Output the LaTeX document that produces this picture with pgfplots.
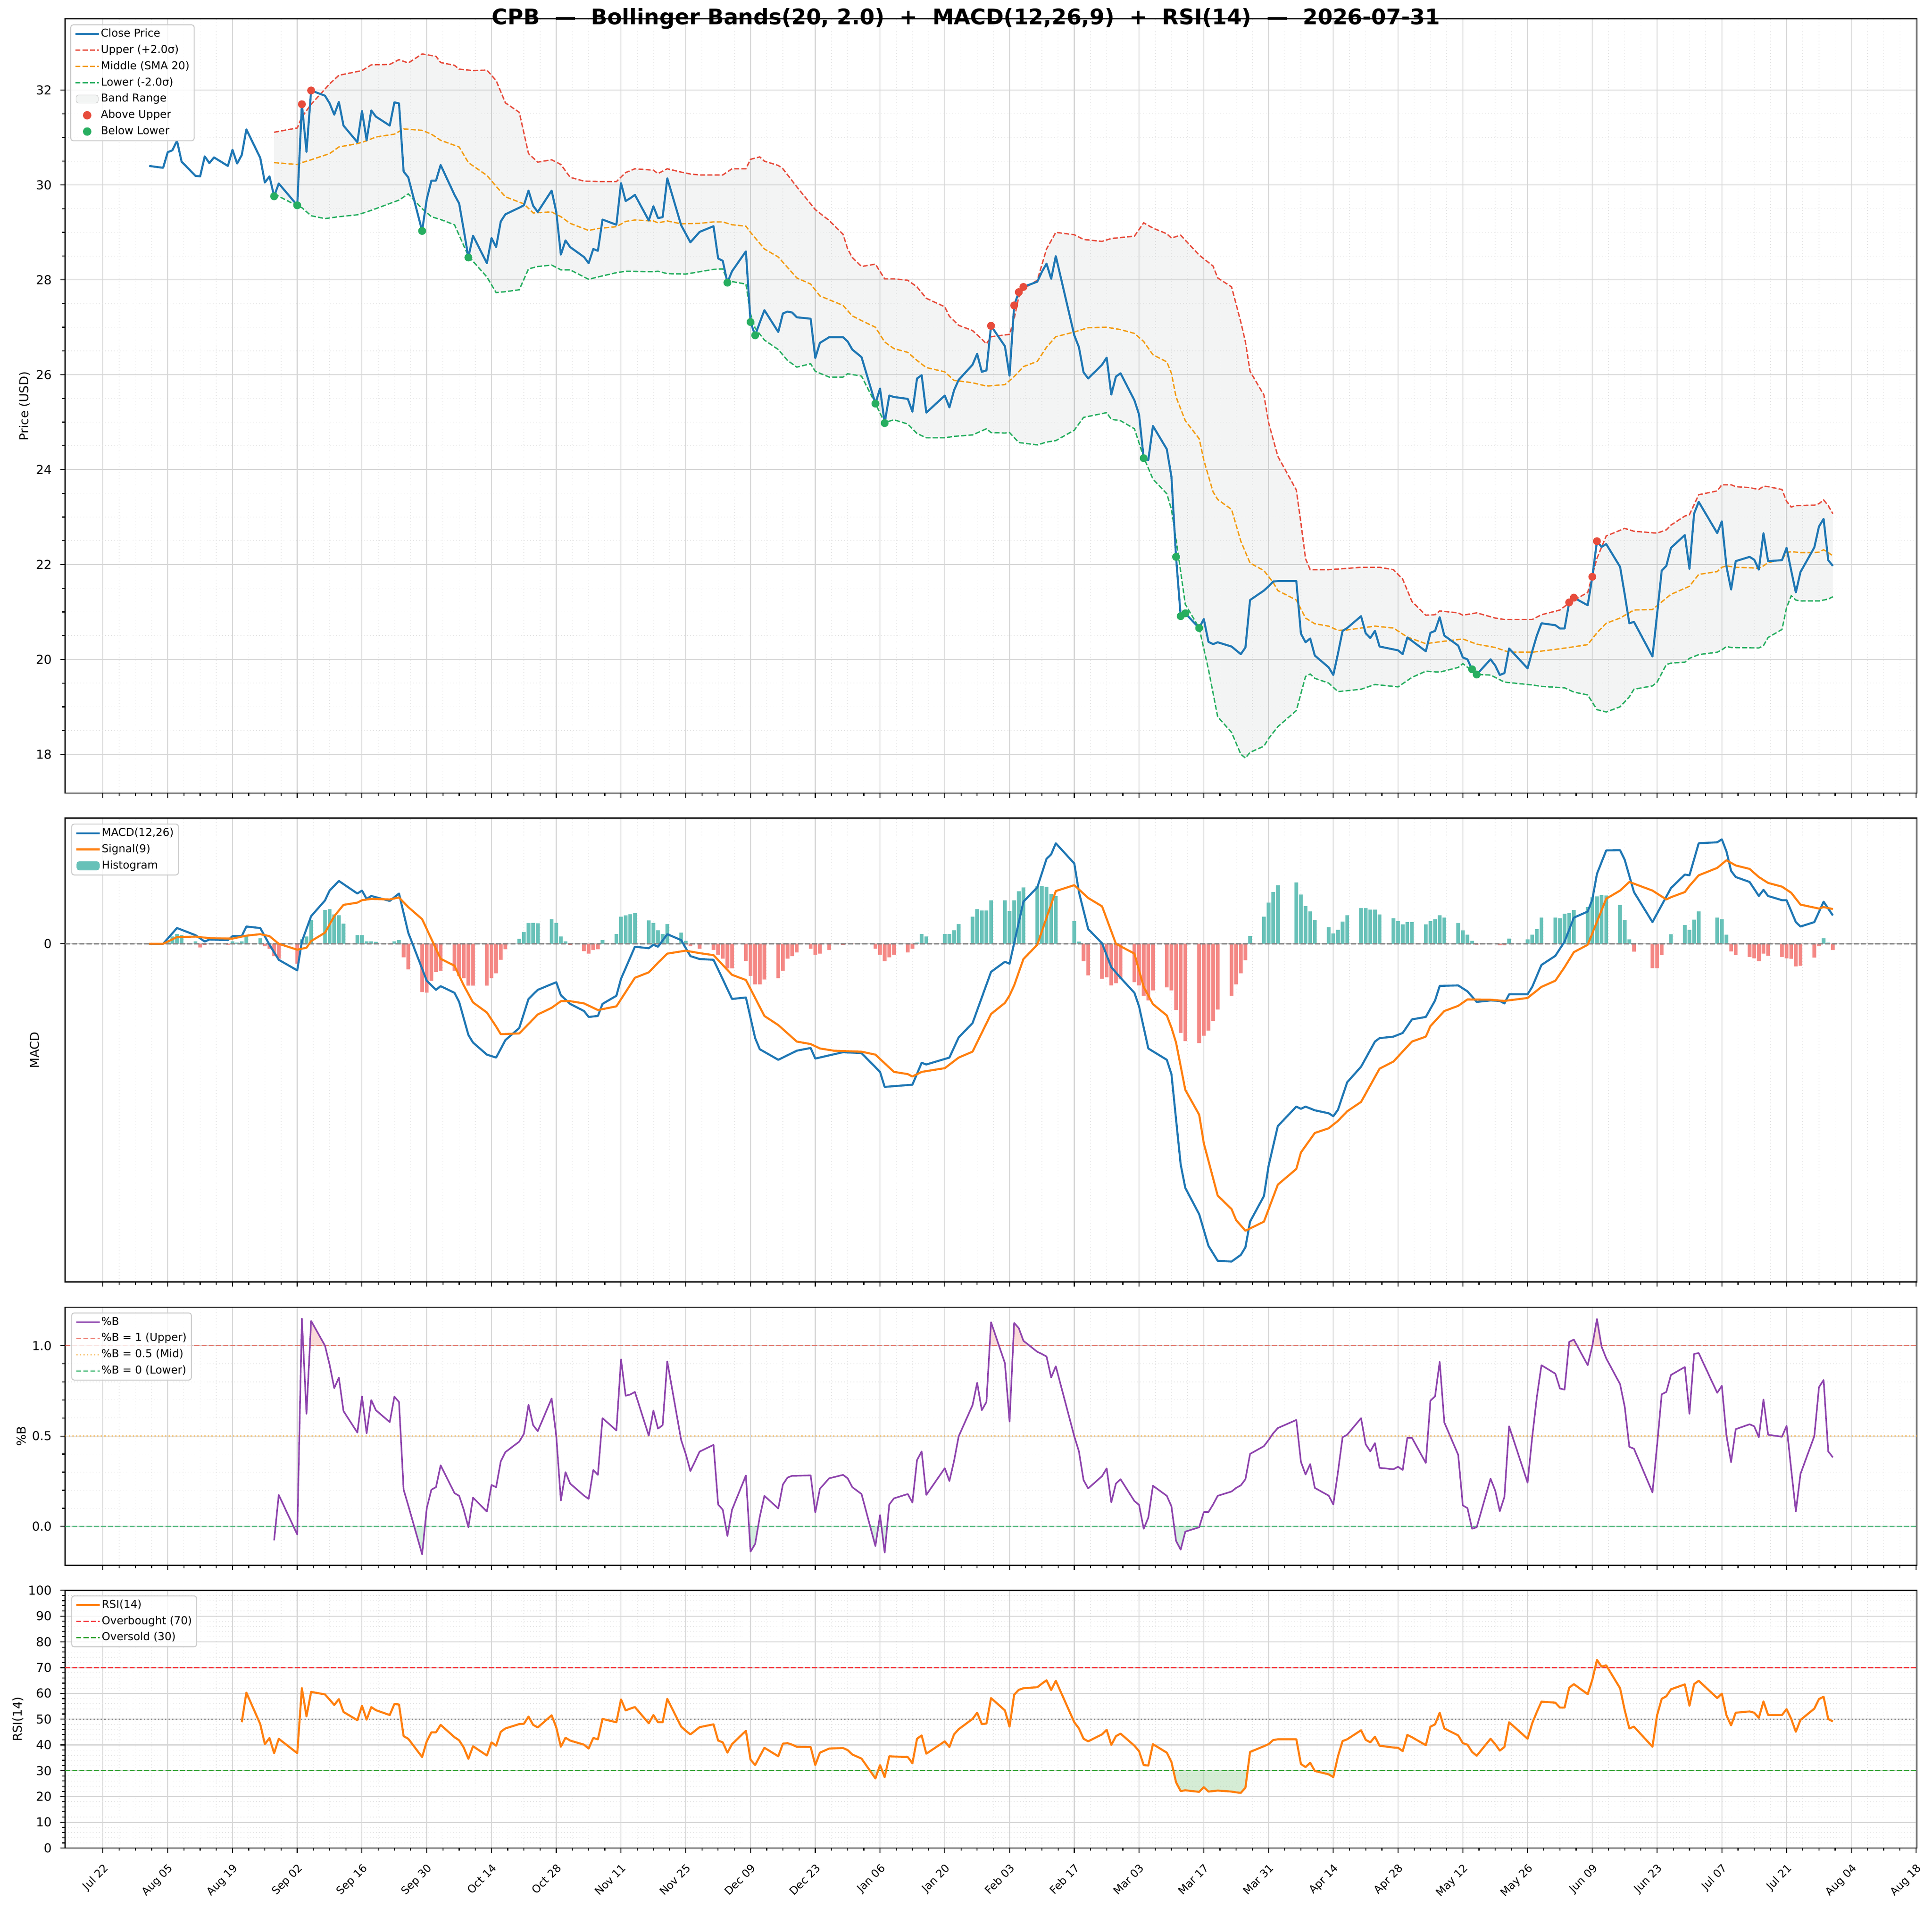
\documentclass[border=0pt]{standalone}
\usepackage{fontspec}
\setmainfont{DejaVu Sans}
\usepackage{pgfplots}
\pgfplotsset{compat=1.18}

\definecolor{cblue}{RGB}{31,119,180}
\definecolor{corange}{RGB}{255,127,14}
\definecolor{cred}{RGB}{231,76,60}
\definecolor{cmid}{RGB}{243,156,18}
\definecolor{cgreen}{RGB}{39,174,96}
\definecolor{bandgray}{RGB}{243,245,244}
\definecolor{bandbase}{RGB}{120,135,130}
\definecolor{tealbar}{RGB}{103,193,184}
\definecolor{redbar}{RGB}{244,135,132}
\definecolor{cpurple}{RGB}{142,68,173}
\definecolor{cr70}{RGB}{245,50,55}
\definecolor{cg30}{RGB}{44,160,44}
\definecolor{gmaj}{RGB}{214,214,214}
\definecolor{gmin}{RGB}{228,228,228}
\definecolor{legedge}{RGB}{204,204,204}
\definecolor{zgray}{RGB}{128,128,128}

\pgfplotsset{
  panel/.style={
    scale only axis, width=1503pt,
    xmin=-8.2, xmax=392.2,
    xtick={0,14,...,392}, minor x tick num=3,
    xtick pos=bottom, ytick pos=left,
    tick align=outside,
    major tick length=3.85pt, minor tick length=2.2pt,
    tick style={black, line width=0.8pt},
    axis line style={black, line width=0.9pt},
    grid=both,
    major grid style={gmaj, line width=0.8pt, solid},
    minor grid style={gmin, line width=0.5pt, dotted},
    tick label style={font=\fontsize{10}{12}\selectfont},
    yticklabel style={xshift=-3.5pt},
    /pgf/number format/assume math mode=true,
    legend cell align=left,
    legend image code/.code={\draw[mark repeat=2,mark phase=2,##1] plot coordinates {(0pt,0pt) (9.5pt,0pt) (19pt,0pt)};},
    legend style={anchor=north west, font=\fontsize{8.8}{10.5}\selectfont,
      draw=legedge, line width=0.8pt, rounded corners=2pt,
      fill=white, fill opacity=0.8, text opacity=1, draw opacity=1,
      inner xsep=3pt, inner ysep=2.5pt, row sep=3.3pt,
      nodes={inner sep=0.8pt, text height=6.5pt, text depth=1.8pt}},
  },
  ylab/.style={every axis y label/.style={at={(axis description cs:0,0.5)}, xshift=-#1, rotate=90, anchor=center, font=\fontsize{9.9}{12}\selectfont}},
  bfill/.style={forget plot, draw=none, fill=cred, fill opacity=0.2},
  gfill/.style={forget plot, draw=none, fill=cgreen, fill opacity=0.2},
  rfill/.style={forget plot, draw=none, fill=cr70, fill opacity=0.2},
  ofill/.style={forget plot, draw=none, fill=cg30, fill opacity=0.2},
}

\begin{document}
\begin{tikzpicture}

% ================= PANEL 1: PRICE =================
\begin{scope}[shift={(52.8pt,-643.6pt)}]
\begin{axis}[panel, height=628.3pt,
  ymin=17.18, ymax=33.50, ytick={18,20,...,32}, minor y tick num=3,
  xticklabels={}, ylabel={Price (USD)}, ylab=32.8pt,
  legend style={at={(axis description cs:0.0028,0.993)}}]
% band range (upper forward, lower reversed)
\addplot[forget plot, draw=none, fill=bandbase, fill opacity=0.09] coordinates {
(37,31.11)(42,31.20)(43,31.43)(45,31.70)(48,32.02)(49,32.13)(51,32.31)(52,32.33)(56,32.41)(58,32.53)(62,32.54)(64,32.64)(66,32.57)(69,32.76)(72,32.71)(73,32.58)(76,32.52)(77,32.44)(80,32.41)(83,32.42)(85,32.20)(87,31.73)(90,31.53)(92,30.66)(94,30.48)(97,30.53)(99,30.43)(101,30.16)(104,30.08)(108,30.07)(111,30.07)(113,30.26)(115,30.34)(119,30.31)(120,30.24)(122,30.34)(125,30.27)(127,30.23)(129,30.21)(134,30.21)(136,30.34)(139,30.34)(140,30.54)(142,30.59)(143,30.50)(146,30.41)(147,30.34)(150,29.96)(154,29.48)(157,29.25)(160,28.96)(161,28.65)(162,28.47)(164,28.28)(167,28.33)(169,28.02)(171,28.02)(174,27.99)(176,27.85)(178,27.61)(182,27.43)(183,27.23)(185,27.04)(188,26.93)(190,26.75)(191,26.65)(192,26.80)(196,26.85)(197,27.18)(198,27.64)(199,27.81)(202,27.99)(204,28.65)(206,29.00)(210,28.95)(212,28.85)(216,28.81)(218,28.87)(223,28.92)(225,29.20)(227,29.09)(230,28.97)(231,28.88)(233,28.94)(237,28.52)(240,28.29)(241,28.04)(244,27.85)(246,27.11)(247,26.69)(248,26.07)(251,25.57)(252,24.99)(254,24.28)(258,23.57)(259,22.87)(260,22.12)(261,21.89)(265,21.89)(268,21.91)(272,21.94)(276,21.94)(279,21.89)(281,21.69)(283,21.22)(286,20.93)(288,20.94)(289,21.02)(293,20.98)(294,20.93)(297,20.98)(301,20.87)(303,20.84)(309,20.84)(311,20.94)(315,21.04)(317,21.19)(321,21.41)(323,22.13)(325,22.60)(329,22.76)(331,22.70)(336,22.66)(338,22.73)(339,22.83)(342,23.02)(343,23.05)(345,23.47)(349,23.55)(350,23.68)(352,23.68)(353,23.64)(356,23.62)(358,23.58)(359,23.65)(360,23.64)(363,23.58)(364,23.33)(365,23.21)(366,23.24)(370,23.25)(371,23.28)(372,23.36)(373,23.24)(374,23.07)
(374,21.32)(373,21.27)(372,21.25)(371,21.23)(367,21.23)(366,21.25)(365,21.34)(364,21.09)(363,20.63)(360,20.46)(359,20.29)(358,20.24)(352,20.25)(351,20.27)(350,20.20)(349,20.15)(345,20.10)(343,20.02)(342,19.94)(339,19.92)(338,19.89)(336,19.52)(335,19.44)(331,19.37)(330,19.21)(328,19.00)(325,18.89)(323,18.94)(321,19.25)(318,19.31)(316,19.40)(311,19.43)(309,19.46)(303,19.52)(300,19.67)(297,19.68)(294,19.91)(293,19.83)(289,19.73)(286,19.75)(283,19.62)(280,19.42)(275,19.47)(272,19.37)(267,19.32)(265,19.50)(262,19.60)(261,19.69)(260,19.64)(258,18.92)(254,18.58)(252,18.33)(251,18.17)(248,18.04)(247,17.92)(246,18.00)(244,18.46)(241,18.79)(239,19.79)(237,20.66)(234,21.16)(232,22.53)(231,23.16)(230,23.49)(227,23.80)(225,24.26)(223,24.86)(220,25.03)(218,25.06)(217,25.20)(212,25.10)(210,24.83)(206,24.61)(204,24.58)(202,24.52)(198,24.57)(196,24.78)(195,24.77)(192,24.78)(191,24.86)(188,24.73)(184,24.70)(182,24.67)(178,24.67)(176,24.76)(174,24.96)(171,25.05)(169,24.99)(167,25.39)(164,25.97)(161,26.02)(160,25.95)(157,25.95)(154,26.07)(153,26.23)(150,26.16)(148,26.30)(146,26.53)(143,26.73)(141,26.98)(140,27.28)(139,27.91)(135,27.98)(134,28.23)(132,28.22)(129,28.17)(126,28.12)(122,28.13)(120,28.18)(119,28.17)(113,28.18)(111,28.15)(107,28.06)(105,28.01)(104,28.06)(101,28.21)(99,28.21)(97,28.31)(94,28.28)(92,28.23)(90,27.79)(87,27.75)(85,27.73)(83,28.06)(79,28.50)(76,29.16)(73,29.27)(71,29.33)(69,29.50)(66,29.81)(64,29.68)(59,29.50)(57,29.43)(55,29.37)(51,29.33)(48,29.29)(45,29.35)(43,29.52)(42,29.56)(37,29.81)(37,31.11)};
\addplot[forget plot, cred, line width=1.1pt, dash pattern=on 4.07pt off 1.76pt] coordinates {
(37,31.11)(42,31.20)(43,31.43)(45,31.70)(48,32.02)(49,32.13)(51,32.31)(52,32.33)(56,32.41)(58,32.53)(62,32.54)(64,32.64)(66,32.57)(69,32.76)(72,32.71)(73,32.58)(76,32.52)(77,32.44)(80,32.41)(83,32.42)(85,32.20)(87,31.73)(90,31.53)(92,30.66)(94,30.48)(97,30.53)(99,30.43)(101,30.16)(104,30.08)(108,30.07)(111,30.07)(113,30.26)(115,30.34)(119,30.31)(120,30.24)(122,30.34)(125,30.27)(127,30.23)(129,30.21)(134,30.21)(136,30.34)(139,30.34)(140,30.54)(142,30.59)(143,30.50)(146,30.41)(147,30.34)(150,29.96)(154,29.48)(157,29.25)(160,28.96)(161,28.65)(162,28.47)(164,28.28)(167,28.33)(169,28.02)(171,28.02)(174,27.99)(176,27.85)(178,27.61)(182,27.43)(183,27.23)(185,27.04)(188,26.93)(190,26.75)(191,26.65)(192,26.80)(196,26.85)(197,27.18)(198,27.64)(199,27.81)(202,27.99)(204,28.65)(206,29.00)(210,28.95)(212,28.85)(216,28.81)(218,28.87)(223,28.92)(225,29.20)(227,29.09)(230,28.97)(231,28.88)(233,28.94)(237,28.52)(240,28.29)(241,28.04)(244,27.85)(246,27.11)(247,26.69)(248,26.07)(251,25.57)(252,24.99)(254,24.28)(258,23.57)(259,22.87)(260,22.12)(261,21.89)(265,21.89)(268,21.91)(272,21.94)(276,21.94)(279,21.89)(281,21.69)(283,21.22)(286,20.93)(288,20.94)(289,21.02)(293,20.98)(294,20.93)(297,20.98)(301,20.87)(303,20.84)(309,20.84)(311,20.94)(315,21.04)(317,21.19)(321,21.41)(323,22.13)(325,22.60)(329,22.76)(331,22.70)(336,22.66)(338,22.73)(339,22.83)(342,23.02)(343,23.05)(345,23.47)(349,23.55)(350,23.68)(352,23.68)(353,23.64)(356,23.62)(358,23.58)(359,23.65)(360,23.64)(363,23.58)(364,23.33)(365,23.21)(366,23.24)(370,23.25)(371,23.28)(372,23.36)(373,23.24)(374,23.07)};
\addplot[forget plot, cgreen, line width=1.1pt, dash pattern=on 4.07pt off 1.76pt] coordinates {
(37,29.81)(42,29.56)(43,29.52)(45,29.35)(48,29.29)(51,29.33)(55,29.37)(57,29.43)(59,29.50)(64,29.68)(66,29.81)(69,29.50)(71,29.33)(73,29.27)(76,29.16)(79,28.50)(83,28.06)(85,27.73)(87,27.75)(90,27.79)(92,28.23)(94,28.28)(97,28.31)(99,28.21)(101,28.21)(104,28.06)(105,28.01)(107,28.06)(111,28.15)(113,28.18)(119,28.17)(120,28.18)(122,28.13)(126,28.12)(129,28.17)(132,28.22)(134,28.23)(135,27.98)(139,27.91)(140,27.28)(141,26.98)(143,26.73)(146,26.53)(148,26.30)(150,26.16)(153,26.23)(154,26.07)(157,25.95)(160,25.95)(161,26.02)(164,25.97)(167,25.39)(169,24.99)(171,25.05)(174,24.96)(176,24.76)(178,24.67)(182,24.67)(184,24.70)(188,24.73)(191,24.86)(192,24.78)(195,24.77)(196,24.78)(198,24.57)(202,24.52)(204,24.58)(206,24.61)(210,24.83)(212,25.10)(217,25.20)(218,25.06)(220,25.03)(223,24.86)(225,24.26)(227,23.80)(230,23.49)(231,23.16)(232,22.53)(234,21.16)(237,20.66)(239,19.79)(241,18.79)(244,18.46)(246,18.00)(247,17.92)(248,18.04)(251,18.17)(252,18.33)(254,18.58)(258,18.92)(260,19.64)(261,19.69)(262,19.60)(265,19.50)(267,19.32)(272,19.37)(275,19.47)(280,19.42)(283,19.62)(286,19.75)(289,19.73)(293,19.83)(294,19.91)(297,19.68)(300,19.67)(303,19.52)(309,19.46)(311,19.43)(316,19.40)(318,19.31)(321,19.25)(323,18.94)(325,18.89)(328,19.00)(330,19.21)(331,19.37)(335,19.44)(336,19.52)(338,19.89)(339,19.92)(342,19.94)(343,20.02)(345,20.10)(349,20.15)(350,20.20)(351,20.27)(352,20.25)(358,20.24)(359,20.29)(360,20.46)(363,20.63)(364,21.09)(365,21.34)(366,21.25)(367,21.23)(371,21.23)(372,21.25)(373,21.27)(374,21.32)};
\addplot[forget plot, cmid, line width=1.1pt, dash pattern=on 4.07pt off 1.76pt] coordinates {
(37,30.47)(42,30.43)(43,30.47)(45,30.53)(49,30.66)(51,30.80)(55,30.87)(57,30.93)(59,31.01)(63,31.07)(65,31.18)(69,31.15)(71,31.07)(73,30.94)(77,30.80)(79,30.47)(83,30.20)(85,29.97)(87,29.75)(91,29.60)(93,29.41)(97,29.43)(99,29.33)(101,29.19)(105,29.04)(107,29.08)(111,29.12)(113,29.23)(115,29.26)(119,29.24)(120,29.20)(122,29.24)(125,29.18)(129,29.19)(132,29.22)(134,29.22)(136,29.16)(139,29.13)(140,29.00)(143,28.65)(146,28.48)(150,28.04)(153,27.91)(155,27.66)(160,27.46)(162,27.24)(164,27.14)(167,27.00)(169,26.69)(171,26.55)(174,26.47)(176,26.30)(178,26.15)(182,26.06)(184,25.88)(188,25.83)(191,25.76)(195,25.79)(197,25.96)(199,26.17)(202,26.28)(204,26.58)(206,26.80)(210,26.90)(213,26.99)(217,27.00)(220,26.95)(223,26.87)(225,26.70)(227,26.42)(230,26.27)(231,26.03)(232,25.53)(234,25.03)(237,24.65)(238,24.20)(240,23.53)(241,23.37)(244,23.16)(246,22.49)(248,22.03)(251,21.87)(253,21.62)(254,21.45)(258,21.25)(260,20.87)(262,20.75)(265,20.70)(267,20.61)(269,20.62)(272,20.66)(275,20.70)(279,20.66)(282,20.47)(286,20.33)(289,20.37)(294,20.43)(297,20.32)(301,20.25)(304,20.15)(309,20.15)(314,20.21)(317,20.25)(321,20.31)(323,20.56)(325,20.76)(328,20.87)(331,21.04)(335,21.05)(339,21.37)(343,21.54)(345,21.79)(349,21.85)(350,21.94)(351,21.97)(353,21.94)(356,21.93)(358,21.92)(359,21.97)(360,22.04)(363,22.10)(364,22.25)(365,22.27)(367,22.25)(370,22.25)(371,22.26)(372,22.31)(373,22.25)(374,22.18)};
\addplot[forget plot, cblue, line width=1.65pt, line join=round] coordinates {
(10,30.40)(13,30.36)(14,30.69)(15,30.73)(16,30.93)(17,30.49)(20,30.19)(21,30.18)(22,30.60)(23,30.46)(24,30.58)(27,30.40)(28,30.74)(29,30.45)(30,30.63)(31,31.17)(34,30.57)(35,30.05)(36,30.18)(37,29.76)(38,30.03)(42,29.57)(43,31.70)(44,30.70)(45,31.99)(48,31.88)(49,31.72)(50,31.48)(51,31.75)(52,31.25)(55,30.90)(56,31.56)(57,30.94)(58,31.57)(59,31.44)(62,31.25)(63,31.74)(64,31.72)(65,30.28)(66,30.16)(69,29.03)(70,29.70)(71,30.09)(72,30.09)(73,30.42)(76,29.79)(77,29.61)(78,29.05)(79,28.47)(80,28.93)(83,28.35)(84,28.88)(85,28.69)(86,29.23)(87,29.38)(90,29.52)(91,29.57)(92,29.88)(93,29.56)(94,29.43)(97,29.88)(98,29.43)(99,28.53)(100,28.83)(101,28.69)(104,28.48)(105,28.35)(106,28.65)(107,28.61)(108,29.27)(111,29.16)(112,30.04)(113,29.66)(114,29.72)(115,29.79)(118,29.25)(119,29.55)(120,29.30)(121,29.32)(122,30.14)(125,29.15)(126,28.97)(127,28.79)(129,29.01)(132,29.13)(133,28.45)(134,28.40)(135,27.94)(136,28.18)(139,28.60)(140,27.11)(141,26.83)(142,27.10)(143,27.36)(146,26.90)(147,27.29)(148,27.33)(149,27.31)(150,27.21)(153,27.18)(154,26.35)(155,26.67)(157,26.79)(160,26.79)(161,26.70)(162,26.53)(164,26.37)(167,25.39)(168,25.71)(169,24.98)(170,25.56)(171,25.53)(174,25.49)(175,25.22)(176,25.92)(177,25.99)(178,25.20)(182,25.56)(183,25.31)(184,25.67)(185,25.89)(188,26.21)(189,26.44)(190,26.06)(191,26.09)(192,27.03)(195,26.60)(196,25.98)(197,27.46)(198,27.74)(199,27.85)(202,27.96)(203,28.17)(204,28.34)(205,28.02)(206,28.50)(210,26.83)(211,26.58)(212,26.05)(213,25.92)(216,26.21)(217,26.36)(218,25.58)(219,25.96)(220,26.03)(223,25.46)(224,25.16)(225,24.24)(226,24.20)(227,24.92)(230,24.43)(231,23.85)(232,22.16)(233,20.91)(234,20.97)(237,20.66)(238,20.85)(239,20.37)(240,20.32)(241,20.36)(244,20.27)(245,20.19)(246,20.11)(247,20.25)(248,21.25)(251,21.45)(252,21.54)(253,21.64)(254,21.65)(258,21.65)(259,20.54)(260,20.36)(261,20.44)(262,20.08)(265,19.83)(266,19.67)(267,20.12)(268,20.60)(269,20.66)(272,20.91)(273,20.55)(274,20.45)(275,20.60)(276,20.27)(279,20.21)(280,20.19)(281,20.11)(282,20.46)(283,20.39)(286,20.17)(287,20.56)(288,20.60)(289,20.89)(290,20.50)(293,20.29)(294,20.04)(295,20.00)(296,19.79)(297,19.68)(300,20.00)(301,19.87)(302,19.67)(303,19.71)(304,20.23)(308,19.81)(309,20.17)(310,20.50)(311,20.76)(314,20.72)(315,20.65)(316,20.65)(317,21.20)(318,21.30)(321,21.14)(322,21.74)(323,22.49)(324,22.37)(325,22.43)(328,21.95)(329,21.37)(330,20.76)(331,20.79)(335,20.06)(336,20.95)(337,21.87)(338,21.97)(339,22.35)(342,22.62)(343,21.91)(344,23.07)(345,23.32)(349,22.66)(350,22.91)(351,21.96)(352,21.47)(353,22.07)(356,22.16)(357,22.10)(358,21.89)(359,22.66)(360,22.07)(363,22.09)(364,22.35)(365,21.87)(366,21.41)(367,21.84)(370,22.36)(371,22.80)(372,22.96)(373,22.09)(374,21.97)};
\addplot[forget plot, only marks, mark=*, mark size=3pt, cred] coordinates {
(43,31.70)(45,31.99)(192,27.03)(197,27.46)(198,27.74)(199,27.85)(317,21.20)(318,21.30)(322,21.74)(323,22.49)};
\addplot[forget plot, only marks, mark=*, mark size=3pt, cgreen] coordinates {
(37,29.76)(42,29.57)(69,29.03)(79,28.47)(135,27.94)(140,27.11)(141,26.83)(167,25.39)(169,24.98)(225,24.24)(232,22.16)(233,20.91)(234,20.97)(237,20.66)(296,19.79)(297,19.68)};
\addlegendimage{cblue, line width=1.65pt}
\addlegendentry{Close Price}
\addlegendimage{cred, line width=1.1pt, dash pattern=on 4.07pt off 1.76pt}
\addlegendentry{Upper (+2.0σ)}
\addlegendimage{cmid, line width=1.1pt, dash pattern=on 4.07pt off 1.76pt}
\addlegendentry{Middle (SMA 20)}
\addlegendimage{cgreen, line width=1.1pt, dash pattern=on 4.07pt off 1.76pt}
\addlegendentry{Lower (-2.0σ)}
\addlegendimage{legend image code/.code={\filldraw[fill=bandgray, fill opacity=1, draw=legedge, line width=0.4pt] (0.5pt,-3.3pt) rectangle (18.5pt,3.3pt);}}
\addlegendentry{Band Range}
\addlegendimage{only marks, mark=*, mark size=3pt, cred, fill opacity=1}
\addlegendentry{Above Upper}
\addlegendimage{only marks, mark=*, mark size=3pt, cgreen, fill opacity=1}
\addlegendentry{Below Lower}
\end{axis}
\end{scope}

% ================= PANEL 2: MACD =================
\begin{scope}[shift={(52.8pt,-1040.3pt)}]
\begin{axis}[panel, height=376.4pt,
  ymin=-1.373, ymax=0.510, ytick={0},
  xticklabels={}, ylabel={MACD}, ylab=24.8pt,
  legend style={at={(axis description cs:0.0033,0.9883)}}]
\addplot[forget plot, ybar, bar width=0.8, bar shift=0pt, fill=tealbar, draw=none] coordinates {
(14,0.01)(15,0.03)(16,0.04)(17,0.035)(20,0.01)(28,0.01)(29,0.005)(30,0.01)(31,0.035)(34,0.023)(43,0.018)(44,0.03)(45,0.097)(48,0.137)(49,0.14)(50,0.119)(51,0.116)(52,0.082)(55,0.035)(56,0.035)(57,0.01)(58,0.01)(59,0.008)(63,0.01)(64,0.015)(90,0.02)(91,0.048)(92,0.084)(93,0.085)(94,0.083)(97,0.1)(98,0.085)(99,0.03)(100,0.01)(108,0.015)(111,0.04)(112,0.11)(113,0.115)(114,0.12)(115,0.125)(118,0.095)(119,0.085)(120,0.055)(121,0.04)(122,0.08)(125,0.045)(126,0.012)(176,0.005)(177,0.04)(178,0.03)(182,0.04)(183,0.04)(184,0.055)(185,0.08)(188,0.11)(189,0.14)(190,0.135)(191,0.135)(192,0.176)(195,0.176)(196,0.133)(197,0.176)(198,0.213)(199,0.229)(202,0.235)(203,0.235)(204,0.231)(205,0.202)(206,0.194)(210,0.092)(211,0.009)(248,0.031)(251,0.110)(252,0.167)(253,0.210)(254,0.238)(258,0.249)(259,0.200)(260,0.153)(261,0.131)(262,0.097)(265,0.067)(266,0.042)(267,0.057)(268,0.090)(269,0.116)(272,0.145)(273,0.145)(274,0.139)(275,0.139)(276,0.119)(279,0.104)(280,0.092)(281,0.079)(282,0.088)(283,0.088)(286,0.079)(287,0.092)(288,0.1)(289,0.116)(290,0.106)(293,0.084)(294,0.054)(295,0.037)(296,0.012)(304,0.021)(308,0.018)(309,0.037)(310,0.060)(311,0.106)(314,0.106)(315,0.104)(316,0.122)(317,0.125)(318,0.137)(321,0.149)(322,0.189)(323,0.192)(324,0.198)(325,0.196)(328,0.158)(329,0.097)(330,0.018)(339,0.039)(342,0.076)(343,0.057)(344,0.098)(345,0.131)(349,0.106)(350,0.100)(351,0.037)(372,0.023)(373,0.005)};
\addplot[forget plot, ybar, bar width=0.8, bar shift=0pt, fill=redbar, draw=none] coordinates {
(21,-0.015)(22,-0.005)(27,-0.004)(35,-0.01)(36,-0.02)(37,-0.05)(38,-0.06)(42,-0.081)(62,-0.003)(65,-0.055)(66,-0.104)(69,-0.196)(70,-0.198)(71,-0.15)(72,-0.114)(73,-0.11)(76,-0.11)(77,-0.13)(78,-0.14)(79,-0.17)(80,-0.17)(83,-0.17)(84,-0.14)(85,-0.12)(86,-0.065)(87,-0.022)(101,-0.005)(104,-0.03)(105,-0.04)(106,-0.025)(107,-0.022)(127,-0.01)(129,-0.02)(132,-0.025)(133,-0.045)(134,-0.06)(135,-0.1)(136,-0.1)(139,-0.07)(140,-0.13)(141,-0.165)(142,-0.165)(143,-0.145)(146,-0.14)(147,-0.11)(148,-0.06)(149,-0.05)(150,-0.035)(153,-0.02)(154,-0.045)(155,-0.04)(157,-0.025)(160,-0.005)(162,-0.002)(167,-0.02)(168,-0.045)(169,-0.071)(170,-0.055)(171,-0.045)(174,-0.035)(175,-0.02)(212,-0.071)(213,-0.128)(216,-0.142)(217,-0.136)(218,-0.169)(219,-0.160)(220,-0.144)(223,-0.156)(224,-0.169)(225,-0.211)(226,-0.230)(227,-0.189)(230,-0.177)(231,-0.189)(232,-0.269)(233,-0.362)(234,-0.395)(237,-0.403)(238,-0.373)(239,-0.352)(240,-0.313)(241,-0.267)(244,-0.211)(245,-0.165)(246,-0.120)(247,-0.067)(297,-0.004)(302,-0.006)(303,-0.006)(331,-0.032)(335,-0.099)(336,-0.099)(337,-0.046)(352,-0.031)(353,-0.046)(356,-0.053)(357,-0.059)(358,-0.071)(359,-0.040)(360,-0.049)(363,-0.053)(364,-0.059)(365,-0.061)(366,-0.092)(367,-0.089)(370,-0.056)(371,-0.010)(374,-0.025)};
\addplot[forget plot, zgray, line width=1.1pt, dash pattern=on 4.07pt off 1.76pt] coordinates {(-8.2,0)(392.2,0)};
\addplot[forget plot, cblue, line width=1.65pt, line join=round] coordinates {
(10,0)(13,0)(16,0.064)(20,0.035)(22,0.009)(23,0.017)(27,0.015)(28,0.031)(30,0.031)(31,0.070)(34,0.064)(36,-0.004)(38,-0.065)(42,-0.108)(43,0.009)(45,0.112)(48,0.176)(49,0.216)(51,0.255)(55,0.204)(56,0.216)(57,0.182)(58,0.194)(62,0.174)(64,0.204)(66,0.045)(70,-0.150)(72,-0.187)(73,-0.172)(76,-0.199)(77,-0.236)(79,-0.370)(80,-0.401)(83,-0.450)(85,-0.462)(87,-0.391)(90,-0.342)(92,-0.224)(94,-0.187)(98,-0.156)(99,-0.209)(101,-0.244)(104,-0.273)(105,-0.297)(107,-0.293)(108,-0.244)(111,-0.211)(112,-0.142)(115,-0.012)(118,-0.018)(119,-0.004)(120,-0.012)(122,0.039)(125,0.015)(127,-0.050)(129,-0.062)(132,-0.065)(134,-0.144)(136,-0.224)(139,-0.218)(141,-0.383)(142,-0.428)(146,-0.471)(150,-0.434)(153,-0.423)(154,-0.466)(160,-0.440)(164,-0.444)(168,-0.520)(169,-0.581)(175,-0.572)(177,-0.483)(178,-0.490)(183,-0.462)(185,-0.380)(188,-0.322)(192,-0.114)(195,-0.073)(196,-0.081)(199,0.171)(202,0.229)(204,0.345)(205,0.363)(206,0.408)(210,0.326)(211,0.210)(213,0.060)(216,0.002)(218,-0.095)(220,-0.138)(223,-0.199)(224,-0.254)(226,-0.425)(230,-0.471)(231,-0.529)(233,-0.896)(234,-0.991)(237,-1.098)(239,-1.226)(241,-1.287)(244,-1.290)(246,-1.263)(247,-1.232)(248,-1.128)(251,-1.024)(252,-0.902)(254,-0.740)(258,-0.661)(259,-0.670)(260,-0.661)(262,-0.676)(265,-0.688)(266,-0.700)(267,-0.674)(269,-0.562)(272,-0.499)(275,-0.397)(276,-0.383)(279,-0.377)(281,-0.362)(283,-0.307)(286,-0.297)(288,-0.230)(289,-0.171)(293,-0.169)(295,-0.193)(297,-0.236)(300,-0.230)(302,-0.232)(303,-0.242)(304,-0.205)(308,-0.205)(309,-0.175)(311,-0.086)(314,-0.049)(316,0.009)(318,0.106)(321,0.131)(322,0.180)(323,0.284)(325,0.379)(328,0.380)(329,0.341)(331,0.210)(335,0.088)(339,0.226)(342,0.281)(343,0.278)(345,0.408)(349,0.412)(350,0.424)(351,0.375)(352,0.296)(353,0.271)(356,0.251)(358,0.194)(359,0.219)(360,0.194)(363,0.177)(364,0.177)(366,0.088)(367,0.070)(370,0.088)(372,0.171)(374,0.115)};
\addplot[forget plot, corange, line width=1.65pt, line join=round] coordinates {
(10,0)(13,0)(16,0.027)(20,0.029)(23,0.023)(28,0.021)(31,0.033)(34,0.039)(36,0.031)(38,0.0)(42,-0.024)(44,-0.016)(45,0.011)(48,0.045)(50,0.112)(52,0.158)(55,0.167)(56,0.177)(58,0.182)(62,0.180)(64,0.188)(66,0.149)(69,0.100)(73,-0.061)(76,-0.089)(78,-0.169)(80,-0.238)(83,-0.279)(85,-0.336)(86,-0.367)(90,-0.364)(94,-0.287)(97,-0.260)(99,-0.233)(101,-0.233)(104,-0.242)(107,-0.269)(111,-0.254)(115,-0.138)(118,-0.116)(120,-0.077)(122,-0.040)(126,-0.028)(129,-0.038)(132,-0.046)(136,-0.126)(139,-0.147)(143,-0.293)(146,-0.330)(150,-0.397)(153,-0.407)(155,-0.425)(158,-0.434)(164,-0.438)(167,-0.450)(171,-0.520)(174,-0.529)(175,-0.539)(177,-0.520)(182,-0.505)(185,-0.462)(188,-0.438)(192,-0.285)(195,-0.240)(196,-0.210)(197,-0.169)(199,-0.062)(202,-0.004)(204,0.106)(206,0.214)(210,0.238)(213,0.186)(216,0.152)(219,0.0)(223,-0.040)(225,-0.175)(227,-0.245)(230,-0.291)(231,-0.340)(232,-0.401)(234,-0.593)(237,-0.694)(238,-0.810)(241,-1.022)(244,-1.077)(245,-1.122)(247,-1.165)(251,-1.128)(254,-0.978)(258,-0.914)(259,-0.847)(262,-0.768)(265,-0.749)(267,-0.719)(269,-0.680)(272,-0.642)(276,-0.507)(279,-0.478)(283,-0.397)(286,-0.377)(287,-0.334)(290,-0.273)(293,-0.252)(295,-0.226)(300,-0.227)(303,-0.232)(308,-0.220)(311,-0.175)(314,-0.150)(316,-0.095)(318,-0.034)(321,-0.004)(325,0.183)(328,0.216)(330,0.251)(335,0.216)(338,0.180)(339,0.189)(342,0.210)(343,0.235)(345,0.278)(349,0.308)(351,0.339)(353,0.318)(356,0.304)(358,0.271)(360,0.247)(363,0.232)(365,0.207)(367,0.159)(371,0.143)(372,0.149)(374,0.141)};
\addlegendimage{cblue, line width=1.65pt}
\addlegendentry{MACD(12,26)}
\addlegendimage{corange, line width=1.65pt}
\addlegendentry{Signal(9)}
\addlegendimage{legend image code/.code={\fill[tealbar, fill opacity=1] (0.5pt,-3.3pt) rectangle (18.5pt,3.3pt);}}
\addlegendentry{Histogram}
\end{axis}
\end{scope}

% ================= PANEL 3: %B =================
\begin{scope}[shift={(52.8pt,-1270.2pt)}]
\begin{axis}[panel, height=209.4pt,
  ymin=-0.2155, ymax=1.2126, ytick={0,0.5,1}, minor y tick num=4,
  yticklabel style={/pgf/number format/fixed, /pgf/number format/fixed zerofill, /pgf/number format/precision=1},
  xticklabels={}, ylabel={\%B}, ylab=35.3pt,
  legend style={at={(axis description cs:0.0033,0.98)}}]
\addplot[forget plot, cred, draw opacity=0.7, line width=1.1pt, dash pattern=on 4.07pt off 1.76pt] coordinates {(-8.2,1)(392.2,1)};
\addplot[forget plot, cmid, draw opacity=0.55, line width=1.1pt, dash pattern=on 1.1pt off 1.8pt] coordinates {(-8.2,0.5)(392.2,0.5)};
\addplot[forget plot, cgreen, draw opacity=0.7, line width=1.1pt, dash pattern=on 4.07pt off 1.76pt] coordinates {(-8.2,0)(392.2,0)};
% regions above 1
\addplot[bfill] coordinates {(42.874,1)(43,1.15)(43.285,1)(42.874,1)};
\addplot[bfill] coordinates {(44.733,1)(45,1.137)(48,1)(44.733,1)};
\addplot[bfill] coordinates {(191.706,1)(192,1.13)(193.718,1)(191.706,1)};
\addplot[bfill] coordinates {(196.769,1)(197,1.126)(198,1.097)(199,1.027)(200.328,1)(196.769,1)};
\addplot[bfill] coordinates {(316.92,1)(317,1.021)(318,1.034)(318.718,1)(316.92,1)};
\addplot[bfill] coordinates {(322,1)(323,1.148)(323.967,1)(322,1)};
% regions below 0
\addplot[gfill] coordinates {(37,0)(37,-0.077)(37.307,0)(37,0)};
\addplot[gfill] coordinates {(41.178,0)(42,-0.045)(42.038,0)(41.178,0)};
\addplot[gfill] coordinates {(67.284,0)(69,-0.155)(69.605,0)(67.284,0)};
\addplot[gfill] coordinates {(78.95,0)(79,-0.005)(79.03,0)(78.95,0)};
\addplot[gfill] coordinates {(134.634,0)(135,-0.053)(135.366,0)(134.634,0)};
\addplot[gfill] coordinates {(139.668,0)(140,-0.14)(141,-0.097)(141.647,0)(139.668,0)};
\addplot[gfill] coordinates {(165.865,0)(167,-0.109)(167.634,0)(165.865,0)};
\addplot[gfill] coordinates {(168.303,0)(169,-0.145)(169.545,0)(168.303,0)};
\addplot[gfill] coordinates {(224.902,0)(225,-0.013)(225.213,0)(224.902,0)};
\addplot[gfill] coordinates {(231.581,0)(232,-0.08)(233,-0.129)(234,-0.029)(237,-0.005)(237.06,0)(231.581,0)};
\addplot[gfill] coordinates {(295.886,0)(296,-0.013)(297,-0.005)(297.056,0)(295.886,0)};
\addplot[forget plot, cpurple, line width=1.3pt, line join=round] coordinates {
(37,-0.077)(38,0.174)(42,-0.045)(43,1.15)(44,0.623)(45,1.137)(48,1.0)(49,0.894)(50,0.765)(51,0.823)(52,0.638)(55,0.519)(56,0.720)(57,0.515)(58,0.699)(59,0.643)(62,0.577)(63,0.718)(64,0.688)(65,0.203)(66,0.116)(69,-0.155)(70,0.101)(71,0.203)(72,0.217)(73,0.338)(76,0.184)(77,0.169)(78,0.092)(79,-0.005)(80,0.159)(83,0.082)(84,0.229)(85,0.217)(86,0.360)(87,0.411)(90,0.469)(91,0.512)(92,0.673)(93,0.560)(94,0.527)(97,0.708)(98,0.50)(99,0.143)(100,0.30)(101,0.237)(104,0.17)(105,0.152)(106,0.312)(107,0.285)(108,0.599)(111,0.531)(112,0.925)(113,0.723)(114,0.73)(115,0.744)(118,0.502)(119,0.641)(120,0.541)(121,0.560)(122,0.913)(125,0.478)(126,0.40)(127,0.306)(129,0.414)(132,0.451)(133,0.121)(134,0.092)(135,-0.053)(136,0.092)(139,0.282)(140,-0.140)(141,-0.097)(142,0.053)(143,0.169)(146,0.099)(147,0.232)(148,0.27)(149,0.280)(150,0.28)(153,0.282)(154,0.077)(155,0.208)(157,0.266)(160,0.285)(161,0.266)(162,0.217)(164,0.179)(167,-0.109)(168,0.063)(169,-0.145)(170,0.121)(171,0.155)(174,0.179)(175,0.132)(176,0.367)(177,0.415)(178,0.174)(182,0.322)(183,0.251)(184,0.362)(185,0.498)(188,0.671)(189,0.795)(190,0.643)(191,0.688)(192,1.130)(195,0.903)(196,0.580)(197,1.126)(198,1.097)(199,1.027)(202,0.966)(203,0.954)(204,0.940)(205,0.824)(206,0.886)(210,0.498)(211,0.415)(212,0.256)(213,0.210)(216,0.278)(217,0.321)(218,0.133)(219,0.237)(220,0.261)(223,0.140)(224,0.119)(225,-0.013)(226,0.048)(227,0.225)(230,0.169)(231,0.111)(232,-0.080)(233,-0.129)(234,-0.029)(237,-0.005)(238,0.079)(239,0.079)(240,0.121)(241,0.169)(244,0.193)(245,0.213)(246,0.227)(247,0.261)(248,0.401)(251,0.444)(252,0.478)(253,0.515)(254,0.544)(258,0.589)(259,0.357)(260,0.287)(261,0.345)(262,0.213)(265,0.17)(266,0.121)(267,0.30)(268,0.493)(269,0.507)(272,0.599)(273,0.454)(274,0.415)(275,0.461)(276,0.324)(279,0.316)(280,0.330)(281,0.312)(282,0.490)(283,0.49)(286,0.351)(287,0.696)(288,0.720)(289,0.911)(290,0.575)(293,0.396)(294,0.116)(295,0.101)(296,-0.013)(297,-0.005)(300,0.264)(301,0.198)(302,0.084)(303,0.164)(304,0.554)(308,0.242)(309,0.493)(310,0.715)(311,0.892)(314,0.845)(315,0.763)(316,0.757)(317,1.021)(318,1.034)(321,0.892)(322,1.0)(323,1.148)(324,0.995)(325,0.93)(328,0.787)(329,0.662)(330,0.440)(331,0.430)(335,0.188)(336,0.449)(337,0.731)(338,0.744)(339,0.838)(342,0.882)(343,0.623)(344,0.955)(345,0.959)(349,0.739)(350,0.778)(351,0.502)(352,0.355)(353,0.538)(356,0.565)(357,0.554)(358,0.493)(359,0.702)(360,0.507)(363,0.496)(364,0.556)(365,0.314)(366,0.082)(367,0.29)(370,0.50)(371,0.77)(372,0.81)(373,0.415)(374,0.382)};
\addlegendimage{cpurple, line width=1.3pt}
\addlegendentry{\%B}
\addlegendimage{cred, draw opacity=0.7, line width=1.1pt, dash pattern=on 4.07pt off 1.76pt}
\addlegendentry{\%B = 1 (Upper)}
\addlegendimage{cmid, draw opacity=0.55, line width=1.1pt, dash pattern=on 1.1pt off 1.8pt}
\addlegendentry{\%B = 0.5 (Mid)}
\addlegendimage{cgreen, draw opacity=0.7, line width=1.1pt, dash pattern=on 4.07pt off 1.76pt}
\addlegendentry{\%B = 0 (Lower)}
\end{axis}
\end{scope}

% ================= PANEL 4: RSI =================
\begin{scope}[shift={(52.8pt,-1499.6pt)}]
\begin{axis}[panel, height=209.1pt,
  ymin=0, ymax=100, ytick={0,10,...,100}, minor y tick num=4,
  xticklabels={Jul 22,Aug 05,Aug 19,Sep 02,Sep 16,Sep 30,Oct 14,Oct 28,Nov 11,Nov 25,Dec 09,Dec 23,Jan 06,Jan 20,Feb 03,Feb 17,Mar 03,Mar 17,Mar 31,Apr 14,Apr 28,May 12,May 26,Jun 09,Jun 23,Jul 07,Jul 21,Aug 04,Aug 18},
  xticklabel style={font=\fontsize{8.8}{10}\selectfont, yshift=-3.5pt, rotate=45, anchor=north east},
  ylabel={RSI(14)}, ylab=38.3pt,
  legend style={at={(axis description cs:0.0033,0.9804)}}]
\addplot[forget plot, cr70, line width=1.1pt, dash pattern=on 4.07pt off 1.76pt] coordinates {(-8.2,70)(392.2,70)};
\addplot[forget plot, cg30, line width=1.1pt, dash pattern=on 4.07pt off 1.76pt] coordinates {(-8.2,30)(392.2,30)};
\addplot[forget plot, zgray, draw opacity=0.8, line width=1.1pt, dash pattern=on 1.1pt off 1.8pt] coordinates {(-8.2,50)(392.2,50)};
\addplot[ofill] coordinates {(165.831,30)(167,27)(167.577,30)(165.831,30)};
\addplot[ofill] coordinates {(168.468,30)(169,27.5)(169.309,30)(168.468,30)};
\addplot[ofill] coordinates {(231.43,30)(232,25.5)(233,22.1)(234,22.4)(237,21.8)(238,23.6)(239,21.9)(240,22.1)(241,22.3)(244,21.9)(245,21.6)(246,21.4)(247,23.4)(247.475,30)(231.43,30)};
\addplot[ofill] coordinates {(261.969,30)(262,29.9)(265,28.6)(266,27.5)(266.309,30)(261.969,30)};
\addplot[rfill] coordinates {(322.61,70)(323,73)(324,70.4)(325,70.9)(325.303,70)(322.61,70)};
\addplot[forget plot, corange, line width=1.65pt, line join=round] coordinates {
(30,48.8)(31,60.3)(34,48.1)(35,40.3)(36,42.7)(37,36.8)(38,42.4)(42,36.8)(43,62.0)(44,51.1)(45,60.6)(48,59.6)(49,57.6)(50,55.5)(51,57.8)(52,52.8)(55,49.6)(56,55.2)(57,49.8)(58,54.7)(59,53.5)(62,51.6)(63,55.9)(64,55.7)(65,43.4)(66,42.4)(69,35.3)(70,41.4)(71,44.9)(72,44.9)(73,47.8)(76,43.0)(77,41.8)(78,39.0)(79,34.6)(80,39.5)(83,35.9)(84,41.0)(85,39.7)(86,45.1)(87,46.4)(90,48.1)(91,48.2)(92,51.0)(93,47.8)(94,46.8)(97,51.5)(98,46.8)(99,39.3)(100,42.8)(101,41.7)(104,40.1)(105,38.6)(106,42.7)(107,42.2)(108,50.1)(111,48.8)(112,57.7)(113,53.4)(114,54.1)(115,54.7)(118,48.4)(119,51.6)(120,48.8)(121,48.8)(122,57.9)(125,47.1)(126,45.5)(127,44.1)(129,46.9)(132,48.0)(133,41.7)(134,41.0)(135,37.0)(136,40.3)(139,45.5)(140,34.3)(141,32.2)(142,35.6)(143,38.9)(146,35.6)(147,40.5)(148,40.7)(149,40.1)(150,39.3)(153,39.2)(154,32.2)(155,37.0)(157,38.6)(160,38.8)(161,38.0)(162,36.3)(164,34.7)(167,27.0)(168,32.2)(169,27.5)(170,35.6)(171,35.5)(174,35.3)(175,32.9)(176,42.4)(177,43.7)(178,36.6)(182,41.4)(183,39.2)(184,44.1)(185,46.1)(188,50.1)(189,52.5)(190,48.1)(191,48.3)(192,58.2)(195,53.4)(196,47.1)(197,59.5)(198,61.4)(199,62.0)(202,62.4)(203,63.8)(204,65.1)(205,61.3)(206,64.9)(210,48.8)(211,46.4)(212,42.4)(213,41.4)(216,44.1)(217,45.9)(218,40.0)(219,43.4)(220,44.4)(223,39.7)(224,37.6)(225,32.2)(226,32.0)(227,40.3)(230,37.0)(231,33.4)(232,25.5)(233,22.1)(234,22.4)(237,21.8)(238,23.6)(239,21.9)(240,22.1)(241,22.3)(244,21.9)(245,21.6)(246,21.4)(247,23.4)(248,37.3)(251,39.5)(252,40.3)(253,41.9)(254,42.2)(258,42.2)(259,32.6)(260,31.4)(261,33.1)(262,29.9)(265,28.6)(266,27.5)(267,35.6)(268,41.5)(269,42.2)(272,45.7)(273,42.0)(274,41.0)(275,43.2)(276,39.7)(279,39.0)(280,38.9)(281,37.6)(282,43.9)(283,43.0)(286,39.9)(287,47.1)(288,48.0)(289,52.5)(290,46.4)(293,43.7)(294,40.7)(295,40.1)(296,37.3)(297,35.8)(300,42.4)(301,40.3)(302,37.8)(303,39.2)(304,48.8)(308,42.4)(309,48.4)(310,52.8)(311,56.8)(314,56.4)(315,54.5)(316,54.5)(317,62.2)(318,63.6)(321,59.7)(322,65.3)(323,73.0)(324,70.4)(325,70.9)(328,62.0)(329,53.5)(330,46.4)(331,47.1)(335,39.3)(336,51.5)(337,57.9)(338,58.9)(339,61.6)(342,63.5)(343,55.2)(344,63.6)(345,64.9)(349,58.2)(350,59.9)(351,51.5)(352,47.6)(353,52.5)(356,53.0)(357,52.5)(358,50.5)(359,56.9)(360,51.6)(363,51.6)(364,53.9)(365,50.1)(366,45.1)(367,49.7)(370,54.1)(371,57.8)(372,58.7)(373,50.1)(374,49.1)};
\addlegendimage{corange, line width=1.65pt}
\addlegendentry{RSI(14)}
\addlegendimage{cr70, line width=1.1pt, dash pattern=on 4.07pt off 1.76pt}
\addlegendentry{Overbought (70)}
\addlegendimage{cg30, line width=1.1pt, dash pattern=on 4.07pt off 1.76pt}
\addlegendentry{Oversold (30)}
\end{axis}
\end{scope}

\node[font=\bfseries\fontsize{17.4}{20}\selectfont, anchor=center] at (784pt,-15pt) {CPB\ \ —\ \ Bollinger Bands(20, 2.0)\ \ +\ \ MACD(12,26,9)\ \ +\ \ RSI(14)\ \ —\ \ 2026-07-31};
\pgfresetboundingbox
\path[use as bounding box] (0pt,0pt) rectangle (1568pt,-1548pt);
\end{tikzpicture}
\end{document}
